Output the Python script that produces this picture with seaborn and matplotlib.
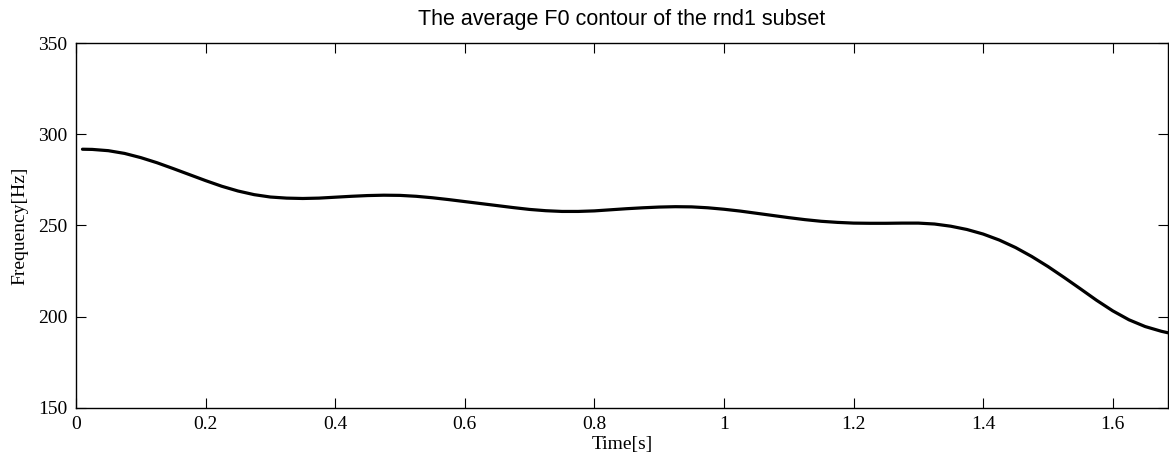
import numpy as np
import pandas as pd
import matplotlib
matplotlib.use("Agg")
import matplotlib.pyplot as plt
import seaborn as sns

# Data
time_s = [0.01, 0.025, 0.05, 0.075, 0.10, 0.125, 0.15, 0.175, 0.20, 0.225, 0.25,
          0.275, 0.30, 0.325, 0.35, 0.375, 0.40, 0.425, 0.45, 0.475, 0.50,
          0.525, 0.55, 0.575, 0.60, 0.625, 0.65, 0.675, 0.70, 0.725, 0.75,
          0.775, 0.80, 0.825, 0.85, 0.875, 0.90, 0.925, 0.95, 0.975, 1.00,
          1.025, 1.05, 1.075, 1.10, 1.125, 1.15, 1.175, 1.20, 1.225, 1.25,
          1.275, 1.30, 1.325, 1.35, 1.375, 1.40, 1.425, 1.45, 1.475, 1.50,
          1.525, 1.55, 1.575, 1.60, 1.625, 1.65, 1.675, 1.685]
freq_hz = [291.8, 291.7, 291.0, 289.5, 287.2, 284.4, 281.2, 277.9, 274.6, 271.5, 268.9,
           266.9, 265.6, 265.0, 264.8, 265.0, 265.5, 266.0, 266.4, 266.6, 266.5,
           266.0, 265.2, 264.2, 263.1, 262.0, 260.9, 259.8, 258.8, 258.1, 257.7,
           257.7, 258.0, 258.6, 259.2, 259.7, 260.1, 260.3, 260.2, 259.7, 258.9,
           257.9, 256.7, 255.5, 254.3, 253.2, 252.3, 251.7, 251.3, 251.2, 251.2,
           251.3, 251.3, 250.8, 249.6, 247.8, 245.3, 242.0, 237.9, 233.0, 227.5,
           221.5, 215.3, 209.0, 203.2, 198.3, 194.6, 192.0, 191.2]
x_ticks = [0, 0.2, 0.4, 0.6, 0.8, 1.0, 1.2, 1.4, 1.6]
x_tick_labels = ["0", "0.2", "0.4", "0.6", "0.8", "1", "1.2", "1.4", "1.6"]
y_ticks = [150, 200, 250, 300, 350]
title = "The average F0 contour of the rnd1 subset"

sns.set_style("ticks")
plt.rcParams['font.family'] = ['Liberation Serif', 'DejaVu Serif']
plt.rcParams['text.color'] = 'black'
plt.rcParams['axes.labelcolor'] = 'black'

df = pd.DataFrame({"t": time_s, "f": freq_hz})

fig = plt.figure(figsize=(11.69, 4.63), dpi=100)
ax = fig.add_axes([0.065, 0.119, 0.934, 0.788])
sns.lineplot(data=df, x="t", y="f", ax=ax, color="black", linewidth=2.3)

ax.set_xlim(0, 1.685)
ax.set_ylim(150, 350)
ax.set_xticks(x_ticks)
ax.set_xticklabels(x_tick_labels)
ax.set_yticks(y_ticks)
ax.tick_params(direction="in", length=7, width=0.8, top=True, right=True,
               labelsize=14, pad=6, colors="black")
for s in ax.spines.values():
    s.set_linewidth(1.0)
    s.set_color("black")

ax.set_xlabel("Time[s]", fontsize=14, labelpad=2)
ax.set_ylabel("Frequency[Hz]", fontsize=14, labelpad=7)
ax.set_title(title, fontsize=15.5, family=['Liberation Sans', 'DejaVu Sans'],
             pad=13, color="black")

fig.savefig("out.png", dpi=100)
